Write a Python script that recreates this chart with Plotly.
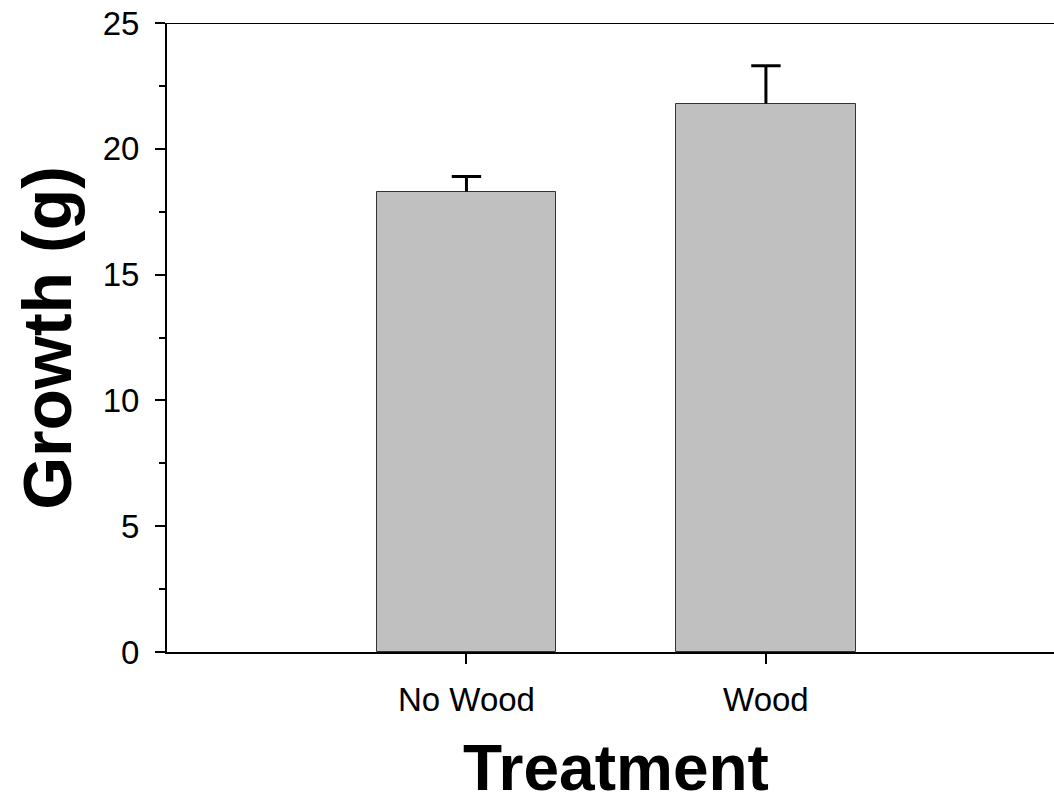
import plotly.graph_objects as go

categories = ["No Wood", "Wood"]
growth = [18.3, 21.8]
err_plus = [0.6, 1.5]
err_minus = [0, 0]
y_ticks = [0, 5, 10, 15, 20, 25]

FONT = "Liberation Sans, Arial, Helvetica, sans-serif"

err_top = [g + e for g, e in zip(growth, err_plus)]

fig = go.Figure()
fig.add_trace(go.Bar(
    x=categories, y=growth, width=0.6,
    marker=dict(color="#C0C0C0", line=dict(color="#333333", width=1)),
    error_y=dict(type="data", symmetric=False, array=err_plus, arrayminus=err_minus,
                 color="black", thickness=3, width=0),
))
# error bar caps (top only)
fig.add_trace(go.Scatter(
    x=categories, y=err_top, mode="markers",
    marker=dict(symbol="line-ew", size=21, line=dict(color="black", width=3)),
    hoverinfo="skip",
))

fig.update_layout(
    width=1054, height=810,
    margin=dict(l=167, r=0, t=23, b=158),
    paper_bgcolor="white", plot_bgcolor="white",
    showlegend=False,
    font=dict(family=FONT, color="black"),
    bargap=0,
)
fig.update_xaxes(
    type="category", range=[-1, 1.962],
    showline=True, linecolor="black", linewidth=2,
    ticks="outside", ticklen=10, tickwidth=2, tickcolor="black",
    tickfont=dict(size=33, family=FONT), ticklabelstandoff=7,
    showgrid=False, zeroline=False,
)
fig.update_yaxes(
    range=[0, 25], tickvals=y_ticks,
    showline=True, linecolor="black", linewidth=2,
    ticks="outside", ticklen=10, tickwidth=2, tickcolor="black",
    tickfont=dict(size=33, family=FONT), ticklabelstandoff=9,
    minor=dict(dtick=2.5, ticks="outside", ticklen=6, tickwidth=2, tickcolor="black", showgrid=False),
    showgrid=False, zeroline=False,
)
# top border line (at y = 25)
fig.add_shape(type="line", xref="paper", yref="y", x0=0, x1=1, y0=25, y1=25,
              line=dict(color="black", width=2))

fig.add_annotation(text="<b>Treatment</b>", xref="paper", yref="paper",
                   x=0.506, y=-0.245, xanchor="center", yanchor="bottom", showarrow=False,
                   font=dict(size=64, family=FONT, color="black"))
fig.add_annotation(text="<b>Growth (g)</b>", xref="paper", yref="paper",
                   x=-0.136, y=0.5, xanchor="center", yanchor="middle", textangle=-90,
                   showarrow=False,
                   font=dict(size=68, family=FONT, color="black"))

fig.write_html("out.html", config={"displayModeBar": False},
               post_script="document.body.style.margin='0';document.body.style.overflow='hidden';")
